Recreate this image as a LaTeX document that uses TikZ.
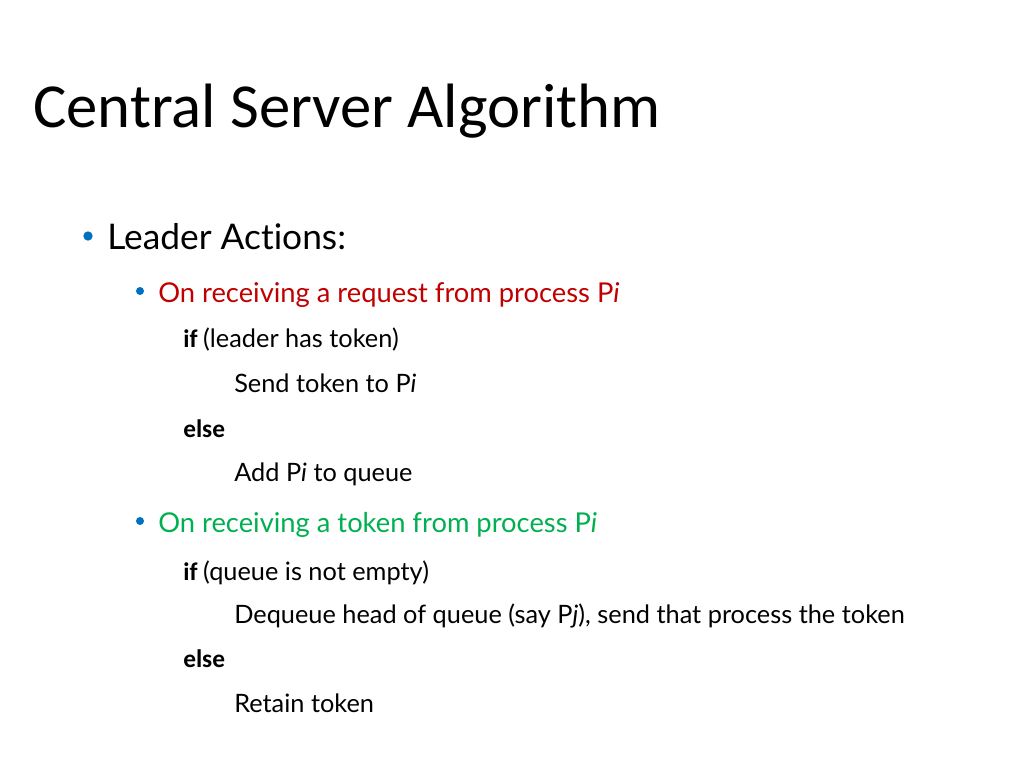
\documentclass[tikz,border=0pt]{standalone}
\usepackage{fontspec}
\setmainfont{Lato}[Ligatures={NoCommon,NoRare}]
\newfontfamily\titlefont{Carlito}
\usetikzlibrary{positioning}
\definecolor{slidered}{HTML}{C00000}
\definecolor{slidegreen}{HTML}{00B050}
\definecolor{slideblue}{HTML}{0070C0}
\tikzset{
  line/.style={anchor=base west, inner sep=0pt, font=\fontsize{19}{23}\selectfont},
  sub/.style={anchor=base west, inner sep=0pt, font=\fontsize{20.5}{25}\selectfont},
  dot/.style={circle, fill, inner sep=0pt, minimum size=#1}
}
\begin{document}
\begin{tikzpicture}[x=0.75pt,y=-0.75pt]
    \useasboundingbox (0,0) rectangle (1024,768);

    % Title
    \node[anchor=base west, inner sep=0pt, font=\titlefont\fontsize{47}{56}\selectfont] (title) at (33,127) {Central Server Algorithm};

    % Top level bullet
    \node[dot=7pt, slideblue] (b1) at (88,236) {};
    \node[anchor=base west, inner sep=0pt, font=\fontsize{26.5}{32}\selectfont] (leader) at (107,249) {Leader \mbox{Ac}\mbox{tions:}};

    % Request handling
    \node[dot=6pt, slideblue] (b2) at (140,291) {};
    \node[sub, slidered] (req) at (158,302) {On receiving a request from process P\textit{i}};
    \node[line] (if1) at (183,347) {\titlefont\textbf{if} \normalfont(leader has token)};
    \node[line] (send) at (234,392) {Send token to P\textit{i}};
    \node[line] (else1) at (183,437) {\titlefont\textbf{else}};
    \node[line] (add) at (234,481) {Add P\textit{i} to queue};

    % Token handling
    \node[dot=6pt, slideblue] (b3) at (140,521) {};
    \node[sub, slidegreen] (tok) at (158,532) {On receiving a token from process P\textit{i}};
    \node[line] (if2) at (183,580) {\titlefont\textbf{if} \normalfont(queue is not empty)};
    \node[line] (deq) at (234,623) {Dequeue head of queue (say P\textit{j}), send that process the token};
    \node[line] (else2) at (183,667) {\titlefont\textbf{else}};
    \node[line] (keep) at (234,712) {Retain token};
\end{tikzpicture}
\end{document}
